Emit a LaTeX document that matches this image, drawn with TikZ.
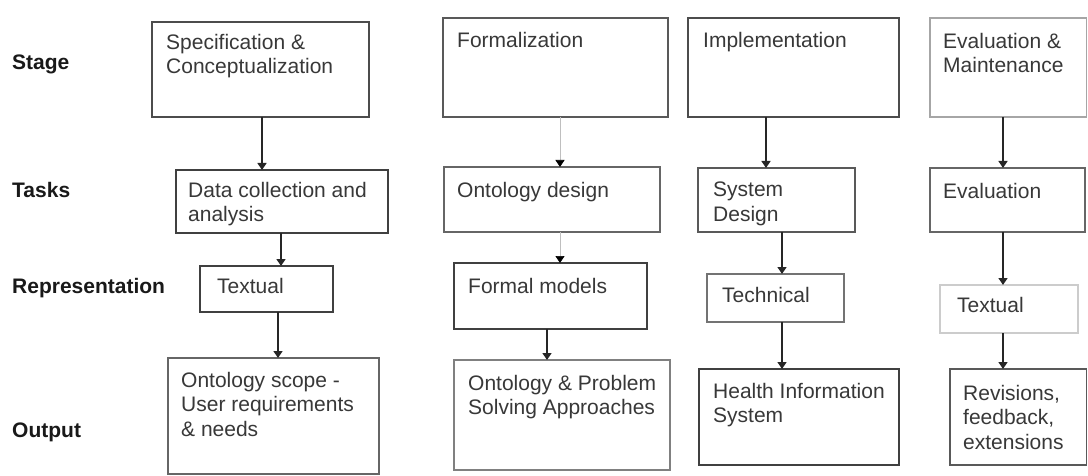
\documentclass[tikz,border=0pt]{standalone}
\usepackage{fontspec}
\setmainfont{Liberation Sans}
\usetikzlibrary{arrows.meta}

\tikzset{
  boxst/.style={draw=black!65, line width=1.3pt, inner sep=0pt, outer sep=0pt, fill=white},
  txt/.style={inner sep=0pt, align=left, text=black!78,
    font=\fontsize{21}{24.5}\selectfont},
  rowlabel/.style={inner sep=0pt, anchor=base west, text=black!90,
    font=\fontsize{21}{24.5}\selectfont\bfseries},
  arr/.style={line width=1.4pt, draw=black!85,
    -{Triangle[width=9pt,length=7pt]}},
  thinarr/.style={line width=0.7pt, draw=black!25,
    -{Triangle[width=9pt,length=7pt,fill=black,color=black]}},
}

% box: [style]{name}{x1}{y1}{x2}{y2}{text dx}{text dy}{text}
\newcommand\flowbox[9][]{%
  \node[boxst,#1,minimum width={(#5-#3)*1pt},minimum height={(#6-#4)*1pt},
        anchor=north west] (#2) at (#3,#4) {};
  \node[txt,anchor=north west] (#2-txt) at ([shift={(#7,#8)}]#2.north west) {#9};
}

\begin{document}
\begin{tikzpicture}[x=1pt,y=-1pt]
\useasboundingbox (0,0) rectangle (1088,476);

% row labels
\node[rowlabel] (lstage) at (12,70) {Stage};
\node[rowlabel] (ltasks) at (12,198) {Tasks};
\node[rowlabel] (lrep) at (12,293) {Representation};
\node[rowlabel] (lout) at (12,437) {Output};

% column 1
\flowbox[draw=black!70]{s1}{152}{22}{369}{117}{14}{12}{Specification \&\\Conceptualization}
\flowbox[draw=black!75]{t1}{176}{170}{388}{233}{12}{12}{Data collection and\\analysis}
\flowbox[draw=black!75]{r1}{200}{266}{333}{312}{17}{12}{Textual}
\flowbox[draw=black!60]{o1}{168}{358}{379}{474}{13}{14}{Ontology scope -\\User requirements\\\& needs}

% column 2
\flowbox[draw=black!65]{s2}{443}{18}{668}{117}{14}{14}{Formalization}
\flowbox[draw=black!60]{t2}{444}{167}{660}{232}{13}{15}{Ontology design}
\flowbox[draw=black!75]{r2}{454}{263}{647}{329}{14}{15}{Formal models}
\flowbox[draw=black!50]{o2}{454}{360}{670}{470}{14}{15}{Ontology \& Problem\\Solving Approaches}

% column 3
\flowbox[draw=black!70]{s3}{688}{18}{899}{117}{15}{14}{Implementation}
\flowbox[draw=black!65]{t3}{698}{168}{855}{232}{15}{14}{System\\Design}
\flowbox[draw=black!55]{r3}{707}{274}{844}{322}{15}{13}{Technical}
\flowbox[draw=black!75]{o3}{699}{369}{899}{465}{14}{14}{Health Information\\System}

% column 4
\flowbox[draw=black!35]{s4}{930}{18}{1086.5}{117}{13}{15}{Evaluation \&\\Maintenance}
\flowbox[draw=black!60]{t4}{930}{168}{1085}{232}{13}{15}{Evaluation}
\flowbox[draw=black!20]{r4}{940}{285}{1078}{333}{17}{12}{Textual}
\flowbox[draw=black!65]{o4}{950}{369}{1086.5}{465}{13}{16}{Revisions,\\feedback,\\extensions}

% arrow columns
\coordinate (a1) at (262,0);
\coordinate (a2) at (281,0);
\coordinate (a3) at (278,0);
\coordinate (b1) at (560,0);
\coordinate (b3) at (547,0);
\coordinate (c1) at (766,0);
\coordinate (c2) at (782,0);
\coordinate (d1) at (1003,0);

% connectors
\draw[arr] (s1.south -| a1) -- (t1.north -| a1);
\draw[arr] (t1.south -| a2) -- (r1.north -| a2);
\draw[arr] (r1.south -| a3) -- (o1.north -| a3);

\draw[thinarr] (s2.south -| b1) -- (t2.north -| b1);
\draw[thinarr] (t2.south -| b1) -- (r2.north -| b1);
\draw[arr] (r2.south -| b3) -- (o2.north -| b3);

\draw[arr] (s3.south -| c1) -- (t3.north -| c1);
\draw[arr] (t3.south -| c2) -- (r3.north -| c2);
\draw[arr] (r3.south -| c2) -- (o3.north -| c2);

\draw[arr] (s4.south -| d1) -- (t4.north -| d1);
\draw[arr] (t4.south -| d1) -- (r4.north -| d1);
\draw[arr] (r4.south -| d1) -- (o4.north -| d1);
\end{tikzpicture}
\end{document}
